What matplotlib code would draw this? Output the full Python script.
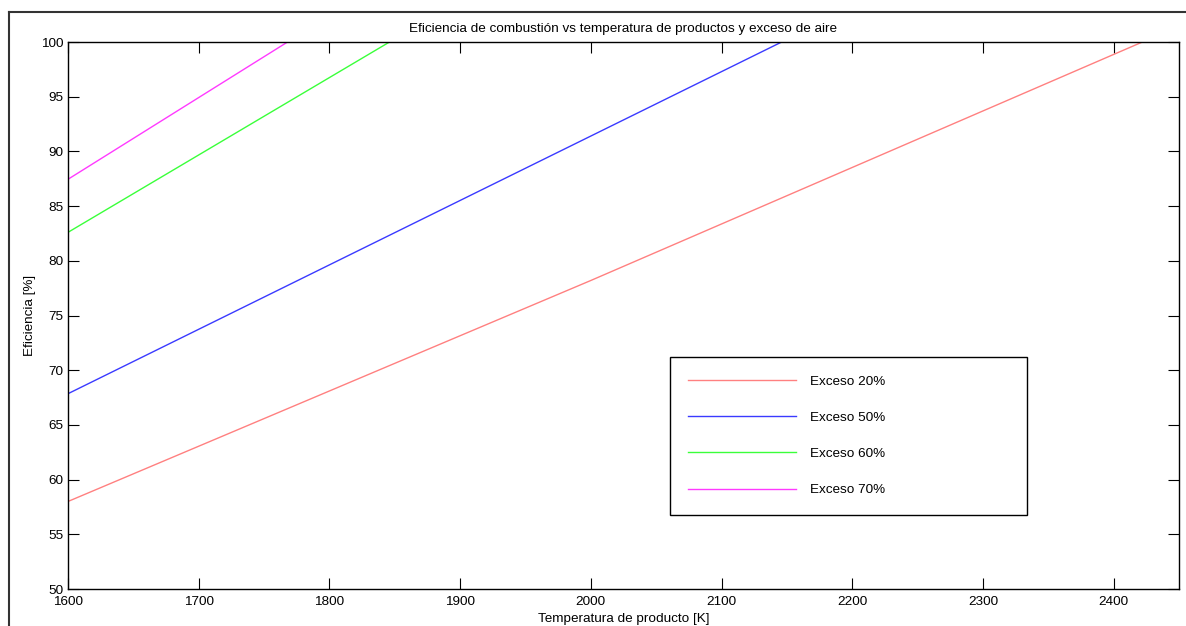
import numpy as np
import matplotlib
matplotlib.use('Agg')
import matplotlib.pyplot as plt
from matplotlib.lines import Line2D

plt.rcParams['font.family'] = ['Liberation Sans', 'DejaVu Sans']

# Temperatura de producto [K] y eficiencia [%] por exceso de aire
temp_20 = [1600, 2000, 2422]
efic_20 = [58.0, 78.2, 100.0]
temp_50 = [1600, 2146]
efic_50 = [67.85, 100.0]
temp_60 = [1600, 1846]
efic_60 = [82.6, 100.0]
temp_70 = [1600, 1768]
efic_70 = [87.45, 100.0]

labels = ['Exceso 20%', 'Exceso 50%', 'Exceso 60%', 'Exceso 70%']
colors = ['#ff8080', '#3a3aff', '#3aff3a', '#ff3aff']

xticks = np.arange(1600, 2401, 100)
yticks = np.arange(50, 101, 5)

FS = 9.7

fig = plt.figure(figsize=(11.86, 6.26), dpi=100)
ax = fig.add_axes([0.0573, 0.0591, 0.9368, 0.8738])

series = [(temp_20, efic_20), (temp_50, efic_50), (temp_60, efic_60), (temp_70, efic_70)]
for (t, e), lab, c in zip(series, labels, colors):
    ax.plot(t, e, color=c, linewidth=1.0, label=lab)

ax.set_xlim(1600, 2450)
ax.set_ylim(50, 100)
ax.set_xticks(xticks)
ax.set_yticks(yticks)
ax.tick_params(direction='in', length=8, width=0.8, top=True, right=True,
               labelsize=FS, pad=3, colors='black')
ax.tick_params(axis='x', pad=5)
for s in ax.spines.values():
    s.set_linewidth(1.0)
    s.set_color('black')

ax.set_title('Eficiencia de combustión vs temperatura de productos y exceso de aire',
             fontsize=FS, pad=7)
ax.set_xlabel('Temperatura de producto [K]', fontsize=FS, labelpad=3.5)
ax.set_ylabel('Eficiencia [%]', fontsize=FS, labelpad=4)

leg = ax.legend(loc='upper left', bbox_to_anchor=(0.5419, 0.1408, 0.3213, 0.2833),
                mode='expand', fontsize=FS, handlelength=8.0, handletextpad=1.05,
                labelspacing=1.77, borderpad=1.35, borderaxespad=0.0,
                fancybox=False, framealpha=1, edgecolor='black')
leg.get_frame().set_linewidth(1.0)

# marco exterior de la figura
fx, fy = 9 / 1186, 1 - 12 / 626
fig.add_artist(Line2D([fx, 1.0], [fy, fy], transform=fig.transFigure,
                      color='#333333', linewidth=1.5))
fig.add_artist(Line2D([fx, fx], [fy, 0.0], transform=fig.transFigure,
                      color='#333333', linewidth=1.5))

fig.savefig('out.png', dpi=100)
